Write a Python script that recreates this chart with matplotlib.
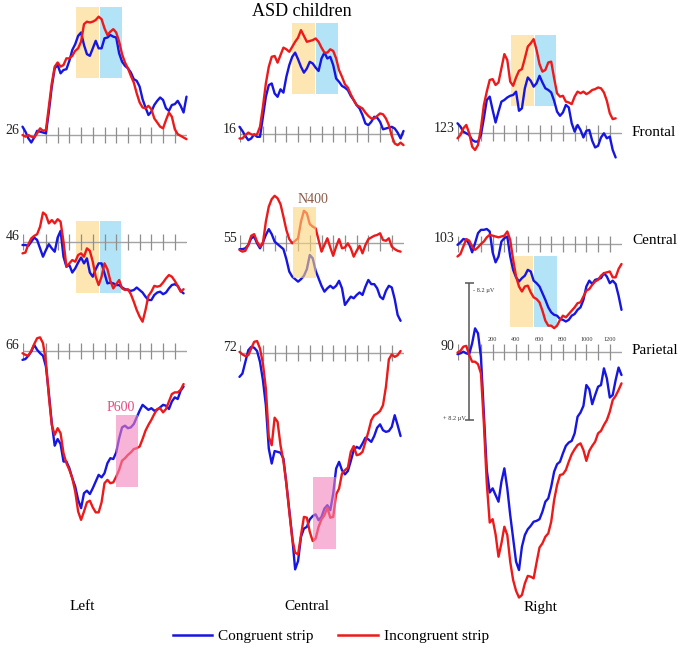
import numpy as np
import matplotlib.pyplot as plt
from matplotlib.lines import Line2D

plt.rcParams['font.family'] = ['Liberation Serif', 'DejaVu Serif']

# ERP waveforms in microvolts (negative plotted upward), one sample every 25 ms from -100 ms
T0, DT = -100, 25

frontal_left_cong = [-1.0, -0.4, 0.4, 0.9, 0.3, -0.5, -0.4, -0.3, -0.2, -2.8,
                     -5.8, -8.0, -8.4, -7.4, -7.8, -7.9, -8.9, -10.2, -10.9, -11.9,
                     -12.3, -10.8, -9.7, -9.5, -10.4, -11.3, -10.4, -10.4, -11.6, -11.7,
                     -12.0, -11.8, -11.7, -9.8, -8.8, -8.3, -8.0, -7.5, -6.7, -6.5,
                     -5.8, -4.3, -3.3, -2.4, -2.8, -3.6, -4.1, -4.5, -4.2, -3.2,
                     -2.9, -3.6, -3.7, -4.1, -3.5, -2.7, -4.6]
frontal_left_incong = [0.0, 0.2, 0.0, 0.2, 0.3, -0.2, -0.8, -0.5, -0.6, -3.4,
                       -6.2, -8.2, -8.7, -8.2, -8.4, -9.2, -9.2, -9.5, -10.1, -10.4,
                       -11.2, -13.3, -13.6, -13.5, -13.6, -13.8, -14.2, -13.9, -12.8, -12.0,
                       -12.4, -12.7, -12.3, -11.2, -9.7, -8.7, -8.0, -7.1, -6.3, -5.0,
                       -3.9, -3.3, -3.2, -3.5, -3.1, -2.0, -1.5, -1.0, -0.8, -1.8,
                       -2.7, -2.2, -0.7, -0.1, 0.1, 0.3, 0.5]

frontal_mid_cong = [-0.9, -0.4, 0.2, 0.7, 0.5, 0.0, 0.3, 0.3, -2.1, -4.5,
                    -5.9, -6.1, -4.9, -4.5, -5.4, -5.0, -6.9, -8.3, -9.3, -9.8,
                    -9.0, -8.1, -7.4, -7.9, -8.7, -8.5, -8.0, -7.6, -9.1, -9.8,
                    -9.1, -9.3, -8.3, -6.7, -6.3, -5.8, -5.6, -5.3, -4.6, -4.1,
                    -3.5, -3.1, -2.3, -1.3, -1.1, -1.5, -2.1, -2.0, -1.5, -0.6,
                    -0.7, -0.8, -0.9, -0.7, -0.2, 0.5, -0.4]
frontal_mid_incong = [0.5, 0.5, 0.1, -0.2, 0.0, 0.1, 0.0, -0.9, -3.3, -6.1,
                      -8.1, -9.3, -9.4, -8.6, -9.5, -10.4, -10.2, -9.9, -10.5, -11.1,
                      -11.6, -12.5, -11.8, -11.1, -11.2, -11.3, -11.5, -11.1, -10.4, -9.8,
                      -9.8, -10.2, -10.0, -9.1, -7.7, -6.9, -6.0, -5.6, -4.8, -4.1,
                      -3.5, -3.3, -3.1, -2.6, -2.2, -1.9, -1.9, -2.2, -2.5, -2.4,
                      -1.9, -1.1, 0.2, 1.1, 1.3, 1.0, 1.3]

frontal_right_cong = [-1.2, -0.8, -0.2, 0.0, 0.2, 0.8, 1.0, 1.0, 0.2, -1.8,
                      -4.0, -4.4, -2.8, -1.3, -2.6, -3.8, -4.0, -4.3, -4.5, -4.6,
                      -5.0, -2.7, -3.0, -5.4, -6.7, -6.3, -5.6, -6.0, -6.9, -6.1,
                      -5.4, -5.2, -4.9, -3.9, -2.6, -2.1, -2.5, -3.4, -3.1, -1.2,
                      -0.2, -1.0, -0.4, 0.5, -0.3, -0.4, 0.9, 1.7, 1.5, 0.5,
                      0.0, 0.6, 0.4, 2.0, 2.9]
frontal_right_incong = [0.6, 0.2, -0.6, -1.0, 0.0, 1.6, 2.0, 1.4, -0.6, -3.4,
                        -5.0, -6.4, -6.5, -5.8, -6.1, -7.8, -9.5, -8.8, -6.2, -5.7,
                        -6.7, -7.5, -7.7, -9.0, -10.4, -10.8, -11.3, -10.0, -8.3, -7.4,
                        -7.6, -8.5, -8.6, -6.6, -4.8, -4.4, -4.5, -3.8, -3.7, -3.5,
                        -4.4, -5.0, -4.8, -5.0, -4.7, -4.9, -5.2, -5.3, -5.5, -5.4,
                        -4.9, -3.9, -2.4, -1.7, -1.8]

central_left_cong = [0.4, 0.4, 0.5, 0.0, -0.5, -0.2, 0.8, 1.8, 1.0, 0.3,
                     0.8, 1.2, -0.5, -1.3, 1.8, 3.0, 2.8, 3.7, 3.2, 2.5,
                     1.9, 2.6, 2.0, 3.7, 4.2, 3.3, 2.6, 2.6, 3.8, 5.0,
                     4.9, 5.0, 5.2, 5.2, 5.5, 5.7, 5.8, 5.9, 5.8, 5.5,
                     5.8, 6.1, 6.6, 7.0, 7.0, 6.4, 6.1, 6.0, 6.3, 6.1,
                     5.6, 5.2, 5.1, 5.3, 5.9, 6.2]
central_left_incong = [1.4, 1.3, 0.3, -0.4, -0.7, -0.9, -1.8, -3.5, -3.2, -2.2,
                       -2.6, -2.2, -2.7, -2.4, 0.0, 3.0, 2.6, 2.2, 2.4, 1.6,
                       1.4, 1.8, 0.8, 1.1, 2.4, 4.2, 5.2, 4.2, 2.6, 3.3,
                       4.7, 5.6, 5.1, 4.6, 5.6, 5.8, 5.7, 6.3, 7.2, 8.2,
                       9.0, 9.6, 8.2, 6.5, 6.0, 5.3, 5.4, 5.3, 4.9, 4.4,
                       4.0, 4.2, 4.7, 5.3, 6.0, 5.7]

central_mid_cong = [0.7, 0.7, 0.6, 0.2, -0.6, -0.8, 0.0, 0.6, -0.1, -1.0,
                    -1.7, -1.1, -0.2, 0.1, 0.4, 0.7, 1.9, 3.4, 4.0, 4.3,
                    4.6, 4.3, 3.9, 3.1, 1.4, 1.8, 3.3, 4.2, 5.1, 5.8,
                    5.4, 5.1, 5.4, 5.1, 4.5, 5.4, 7.4, 6.9, 6.4, 6.6,
                    6.2, 5.9, 6.2, 5.2, 4.4, 4.9, 4.9, 5.4, 6.4, 6.7,
                    5.7, 5.1, 5.3, 6.7, 8.6, 9.3]
central_mid_incong = [0.8, 1.0, 0.9, 0.2, -0.9, -1.1, -0.2, 0.4, 0.0, -2.6,
                      -4.4, -5.3, -5.7, -5.4, -4.7, -3.2, -1.6, -0.5, 0.0, -0.3,
                      -0.6, -2.6, -3.9, -3.6, -2.3, -2.0, -1.8, -0.4, 1.0, 0.2,
                      -0.6, 0.5, 1.5, 0.4, -0.5, 0.6, 0.5, 0.0, 0.6, 1.6,
                      0.9, 0.3, 1.2, 0.2, -0.5, -0.7, -0.9, -1.0, -1.2, -0.4,
                      -0.3, -0.6, 0.4, 0.7, 0.9, 1.0]

central_right_cong = [0.1, -0.2, -0.6, -0.5, 0.0, 1.0, -0.1, -1.3, -1.7, -1.7,
                      -1.8, -1.5, 1.0, 2.2, 1.5, -0.3, -0.7, -0.9, 1.5, 3.1,
                      4.0, 4.5, 4.1, 3.8, 3.1, 3.3, 4.4, 4.7, 5.1, 5.9,
                      6.7, 7.6, 8.2, 8.5, 8.6, 9.0, 9.1, 9.3, 9.1, 8.6,
                      8.4, 7.9, 7.6, 6.7, 5.1, 4.4, 4.8, 4.3, 4.2, 4.1,
                      3.5, 3.9, 4.7, 4.4, 4.8, 6.2, 7.9]
central_right_incong = [1.5, 1.2, 0.3, -0.6, -0.4, 0.3, 0.7, 0.4, 0.0, -0.3,
                        -0.8, -1.1, -1.0, -0.9, -0.8, -0.9, -1.0, -1.5, -0.5, 1.9,
                        3.9, 5.1, 5.7, 5.1, 5.0, 5.8, 6.4, 6.6, 7.0, 8.0,
                        9.2, 9.8, 9.8, 10.1, 9.8, 9.1, 8.6, 8.8, 8.4, 8.0,
                        7.6, 7.1, 7.0, 6.3, 5.6, 5.4, 4.9, 4.5, 4.3, 3.8,
                        3.5, 3.4, 3.3, 4.0, 4.0, 3.0, 2.4]

parietal_left_cong = [1.1, 1.0, 0.6, 0.1, -0.7, -0.1, 0.3, 0.6, 1.9, 5.1,
                      8.7, 11.4, 10.6, 11.2, 13.3, 13.3, 14.1, 15.3, 16.3, 17.9,
                      18.9, 17.1, 16.8, 17.2, 16.5, 15.7, 14.9, 15.2, 14.7, 13.5,
                      12.9, 13.0, 12.2, 10.5, 9.2, 9.0, 9.3, 9.2, 8.8, 8.0,
                      7.2, 6.5, 6.8, 7.1, 6.9, 7.2, 7.1, 6.8, 6.5, 6.6,
                      7.0, 6.1, 5.6, 5.8, 4.8, 4.3]
parietal_left_incong = [0.3, 0.5, 0.6, 0.0, -0.8, -1.5, -1.6, -0.9, 1.3, 5.5,
                        8.9, 10.1, 9.3, 9.9, 12.3, 13.5, 14.3, 15.3, 16.9, 19.3,
                        20.3, 19.3, 18.2, 18.0, 18.8, 19.4, 19.4, 18.2, 15.9, 15.5,
                        15.9, 15.8, 15.1, 14.3, 13.2, 12.9, 12.5, 12.2, 11.8, 11.7,
                        11.5, 10.6, 9.6, 8.9, 8.3, 7.6, 7.0, 6.9, 7.4, 7.0,
                        6.1, 5.2, 5.0, 5.0, 4.7, 4.0]

parietal_mid_cong = [2.9, 2.5, 1.1, -0.3, -0.7, -0.6, -0.2, 1.1, 3.3, 6.3,
                     11.5, 13.3, 11.8, 11.9, 12.0, 12.7, 15.7, 18.9, 22.1, 26.0,
                     25.0, 22.1, 21.1, 20.9, 20.0, 19.6, 19.4, 20.1, 19.7, 18.7,
                     18.3, 18.9, 16.9, 13.9, 13.1, 14.1, 14.6, 14.2, 13.0, 11.7,
                     11.3, 11.5, 10.9, 10.2, 10.4, 10.7, 10.0, 9.0, 8.6, 9.3,
                     9.5, 9.4, 8.9, 7.5, 8.7, 10.0]
parietal_mid_incong = [-0.1, 0.2, 0.4, 0.3, -0.5, -1.3, -1.4, -0.5, 1.3, 4.3,
                       10.1, 11.1, 7.8, 8.3, 11.1, 13.0, 15.7, 19.1, 22.3, 24.0,
                       24.2, 21.9, 19.7, 19.8, 21.5, 22.6, 22.3, 20.9, 20.0, 19.5,
                       18.6, 19.8, 19.7, 17.0, 16.3, 14.5, 14.1, 13.8, 11.9, 11.2,
                       12.3, 12.2, 11.9, 10.7, 9.5, 8.1, 7.5, 7.3, 7.0, 6.3,
                       4.1, 0.8, 0.2, 0.5, 0.3, -0.2]

parietal_right_cong = [0.3, 0.2, 0.0, 0.2, 0.3, -1.0, -2.8, -2.2, 0.6, 7.4,
                       14.2, 16.9, 16.4, 17.2, 18.0, 15.6, 14.0, 16.4, 19.6, 22.4,
                       25.2, 26.2, 23.4, 22.0, 21.3, 20.9, 20.4, 20.3, 20.1, 19.2,
                       18.0, 17.6, 16.2, 14.4, 13.5, 13.2, 12.2, 11.3, 10.9, 10.7,
                       9.8, 7.8, 7.3, 6.5, 4.0, 4.5, 6.3, 5.2, 4.2, 4.0,
                       2.0, 3.2, 5.5, 5.2, 3.4, 1.9, 2.8]
parietal_right_incong = [0.1, -0.1, -0.6, -0.7, 0.4, 1.2, 1.2, 1.5, 2.6, 8.6,
                         15.8, 20.5, 20.1, 21.9, 24.6, 23.0, 21.0, 22.0, 25.2, 27.4,
                         28.7, 29.5, 29.2, 27.8, 26.9, 27.0, 27.2, 25.3, 23.5, 23.0,
                         22.2, 21.8, 20.4, 17.8, 16.0, 14.8, 14.7, 14.2, 13.2, 12.3,
                         11.7, 11.2, 11.0, 11.8, 13.1, 11.9, 11.3, 10.8, 9.8, 9.5,
                         8.8, 8.2, 7.2, 5.8, 5.3, 4.6, 3.8]

electrodes = [["26", "16", "123"], ["46", "55", "103"], ["66", "72", "90"]]
row_names = ["Frontal", "Central", "Parietal"]
col_names = ["Left", "Central", "Right"]
time_labels = [200, 400, 600, 800, 1000, 1200]
scale_uv = 8.2

# analysis windows: (row, col, t_start, t_end, uv_top, uv_bottom, kind)
windows = [
    (0, 0, 355, 550, -15.4, -6.8, "early"), (0, 0, 560, 750, -15.4, -6.8, "late"),
    (0, 1, 350, 545, -13.3, -4.8, "early"), (0, 1, 555, 745, -13.3, -4.8, "late"),
    (0, 2, 355, 550, -11.8, -3.3, "early"), (0, 2, 560, 745, -11.8, -3.3, "late"),
    (1, 0, 355, 550, -2.5, 6.1, "early"), (1, 0, 560, 745, -2.5, 6.1, "late"),
    (1, 2, 350, 545, 1.4, 10.0, "early"), (1, 2, 555, 750, 1.4, 10.0, "late"),
    (1, 1, 360, 550, -4.3, 4.2, "N400"),
    (2, 0, 700, 890, 7.7, 16.3, "P600"),
    (2, 1, 530, 720, 14.9, 23.5, "P600"),
]

cong = [[frontal_left_cong, frontal_mid_cong, frontal_right_cong],
        [central_left_cong, central_mid_cong, central_right_cong],
        [parietal_left_cong, parietal_mid_cong, parietal_right_cong]]
incong = [[frontal_left_incong, frontal_mid_incong, frontal_right_incong],
          [central_left_incong, central_mid_incong, central_right_incong],
          [parietal_left_incong, parietal_mid_incong, parietal_right_incong]]

BLUE = "#1616e0"
RED = "#ec1a1a"
W, H = 685, 653
PX_UV = 25 / 3
col_x = [22.5, 239.5, 457.5]
row_base = [[135, 134.3, 133.3], [241.7, 243.3, 244], [350.7, 352.7, 351.7]]

fig = plt.figure(figsize=(6.85, 6.53), dpi=100)

axes = {}
for r in range(3):
    for c in range(3):
        base = row_base[r][c]
        up, down = 130, 270
        ax = fig.add_axes([col_x[c] / W, (H - base - down) / H, 164 / W, (up + down) / H])
        ax.set_xlim(-100, 1300)
        ax.set_ylim(down / PX_UV, -up / PX_UV)
        ax.axis("off")
        ax.patch.set_alpha(0)
        axes[(r, c)] = ax

        ax.plot([-100, 1300], [0, 0], color="#a3a3a3", lw=1.0, zorder=1)
        ax.vlines([-100] + list(range(100, 1300, 100)), -0.96, 0.96, color="#8e8e8e", lw=0.9, zorder=1)

        for v, col in ((cong[r][c], BLUE), (incong[r][c], RED)):
            t = T0 + DT * np.arange(len(v))
            ax.plot(t, v, color=col, lw=1.7, zorder=3, clip_on=False,
                    solid_joinstyle="round", solid_capstyle="round")

        ax.text(-125, -0.6, electrodes[r][c], ha="right", va="center", fontsize=10, color="#222222")

for r, c, t0, t1, v0, v1, kind in windows:
    ax = axes[(r, c)]
    if kind == "early":
        ax.fill_between([t0, t1], v0, v1, color="#fde6b2", lw=0, zorder=0)
    elif kind == "late":
        ax.fill_between([t0, t1], v0, v1, color="#b2e3f6", lw=0, zorder=0)
    elif kind == "N400":
        ax.fill_between([t0, t1], v0, v1, color="#fcd57b", alpha=0.6, lw=0, zorder=4)
    else:
        ax.fill_between([t0, t1], v0, v1, color="#f382bb", alpha=0.6, lw=0, zorder=4)

axes[(1, 1)].text(525, -5.2, "N400", color="#8b5a48", ha="center", va="center", fontsize=10)
axes[(2, 0)].text(737, 6.8, "P600", color="#e8497f", ha="center", va="center", fontsize=10)

# voltage scale bar and time labels in the right parietal panel
ax = axes[(2, 2)]
ax.vlines(0, -scale_uv, scale_uv, color="#555555", lw=1.1, zorder=2)
ax.hlines([-scale_uv, scale_uv], -40, 40, color="#555555", lw=1.1, zorder=2)
ax.text(30, -scale_uv + 0.8, "- 8.2 µV", fontsize=4.5, ha="left", va="center", color="#333333")
ax.text(-30, scale_uv - 0.2, "+ 8.2 µV", fontsize=4.5, ha="right", va="center", color="#333333")
for tl in time_labels:
    ax.text(tl, -1.5, str(tl), fontsize=4.5, ha="center", va="center", color="#333333")

fig.text(302 / W, 1 - 12 / H, "ASD children", ha="center", va="center", fontsize=13)
for name, y in zip(row_names, [133, 240, 350]):
    fig.text(632 / W, 1 - y / H, name, ha="left", va="center", fontsize=11)
for name, x in zip(col_names, [82, 307, 540]):
    fig.text(x / W, 1 - 607 / H, name, ha="center", va="center", fontsize=11)

handles = [Line2D([], [], color=BLUE, lw=1.8), Line2D([], [], color=RED, lw=1.8)]
fig.legend(handles, ["Congruent strip", "Incongruent strip"], loc="center",
           bbox_to_anchor=(331 / W, 1 - 636 / H), ncol=2, frameon=False, fontsize=11,
           handlelength=2.6, handletextpad=0.4, columnspacing=1.6)

fig.savefig("out.png", dpi=100)
